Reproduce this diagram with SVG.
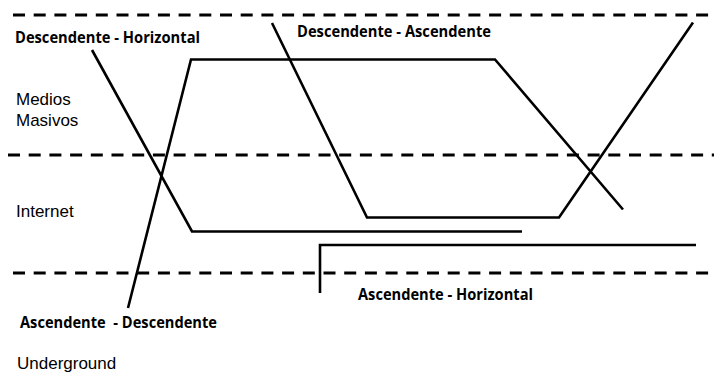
<svg xmlns="http://www.w3.org/2000/svg" width="714" height="372" viewBox="0 0 714 372">
  <style>
    .bg { fill: #ffffff; }
    .divider { stroke: #000; stroke-width: 3; stroke-dasharray: 12 8.7; fill: none; }
    .path { stroke: #000; stroke-width: 2.6; fill: none; stroke-linejoin: miter; }
    .tag { font-family: "Open Sans", "Liberation Sans", sans-serif; font-weight: bold; font-size: 15.5px; fill: #000; white-space: pre; }
    .layer { font-family: "Liberation Sans", Arial, sans-serif; font-size: 17px; fill: #000; }
  </style>
  <rect class="bg" x="0" y="0" width="714" height="372"/>

  <!-- layer dividers -->
  <g id="dividers">
    <line class="divider" x1="13" y1="15" x2="714" y2="15"/>
    <line class="divider" x1="8" y1="155" x2="714" y2="155"/>
    <line class="divider" x1="13" y1="273" x2="714" y2="273"/>
  </g>

  <!-- layer names -->
  <g id="layer-medios">
    <text class="layer" x="16" y="105">Medios</text>
    <text class="layer" x="16" y="126">Masivos</text>
  </g>
  <g id="layer-internet">
    <text class="layer" x="16" y="217">Internet</text>
  </g>
  <g id="layer-underground">
    <text class="layer" x="17" y="369">Underground</text>
  </g>

  <!-- flow paths -->
  <g id="connectors">
    <polyline id="flow-desc-horiz" class="path" points="92,50 192,231.5 522,231.5"/>
    <polyline id="flow-asc-desc" class="path" points="128,308 191,59.5 495,59.5 623,209.5"/>
    <polyline id="flow-desc-asc" class="path" points="272,23 367,217.5 559,217.5 693,22.5"/>
    <polyline id="flow-asc-horiz" class="path" points="320,293 320,245 696,245"/>
  </g>

  <!-- flow labels -->
  <g id="label-desc-horiz">
    <text class="tag" x="15" y="43" textLength="185" lengthAdjust="spacingAndGlyphs">Descendente - Horizontal</text>
  </g>
  <g id="label-desc-asc">
    <text class="tag" x="297" y="36.5" textLength="194" lengthAdjust="spacingAndGlyphs">Descendente - Ascendente</text>
  </g>
  <g id="label-asc-horiz">
    <text class="tag" x="358" y="300" textLength="175" lengthAdjust="spacingAndGlyphs">Ascendente - Horizontal</text>
  </g>
  <g id="label-asc-desc">
    <text class="tag" x="20" y="327.5" textLength="197" lengthAdjust="spacingAndGlyphs">Ascendente  - Descendente</text>
  </g>
</svg>
